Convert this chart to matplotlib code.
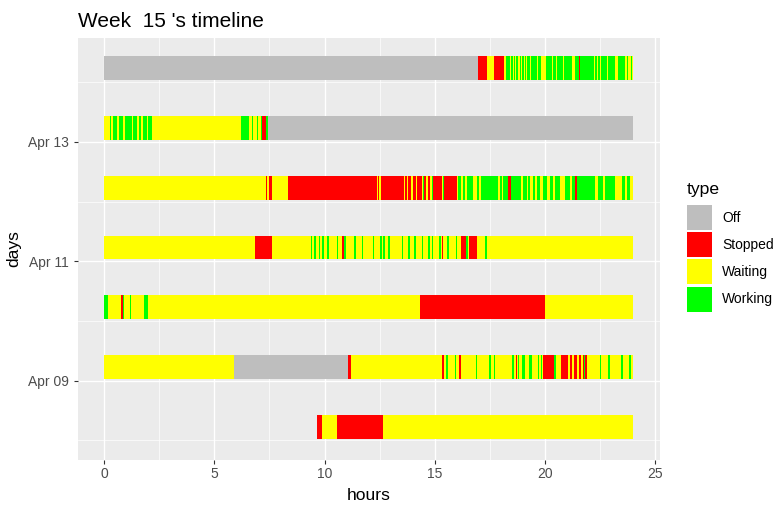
import matplotlib
matplotlib.use("Agg")
import matplotlib.pyplot as plt
from matplotlib.patches import Patch

plt.rcParams['font.family'] = ['Liberation Sans', 'DejaVu Sans']

# Categories and colours
type_names = ["Off", "Stopped", "Waiting", "Working"]
type_colors = ["#BEBEBE", "#FF0000", "#FFFF00", "#00FF00"]

days = ["Apr 08", "Apr 09", "Apr 10", "Apr 11", "Apr 12", "Apr 13", "Apr 14"]
day_tick_labels = ["Apr 09", "Apr 11", "Apr 13"]

# Each day: change times (hours, last entry = end of record) and the state
# that holds from each change time until the next one.
apr08_times = [9.675, 9.87, 10.55, 12.64, 24.0]
apr08_states = ["Stopped", "Waiting", "Stopped", "Waiting"]

apr09_times = [0, 5.896, 11.08, 11.2, 15.31, 15.42, 15.51, 15.59, 15.9, 15.96,
               16.12, 16.19, 16.87, 16.93, 17.46, 17.54, 17.69, 17.75, 18.52,
               18.58, 18.69, 18.75, 18.79, 18.84, 18.96, 19.11, 19.28, 19.43,
               19.68, 19.74, 19.8, 19.86, 19.92, 20.41, 20.5, 20.71, 21.04,
               21.12, 21.2, 21.32, 21.47, 21.53, 21.62, 21.7, 21.76, 21.82,
               21.88, 22.49, 22.55, 22.87, 22.93, 23.43, 23.52, 23.82, 23.9, 24.0]
apr09_states = ["Waiting", "Off", "Stopped", "Waiting", "Stopped", "Waiting",
                "Working", "Waiting", "Working", "Waiting", "Stopped", "Waiting",
                "Working", "Waiting", "Working", "Waiting", "Working", "Waiting",
                "Working", "Waiting", "Stopped", "Waiting", "Working", "Waiting",
                "Working", "Waiting", "Working", "Waiting", "Working", "Waiting",
                "Working", "Waiting", "Stopped", "Working", "Waiting", "Stopped",
                "Waiting", "Stopped", "Waiting", "Stopped", "Waiting", "Stopped",
                "Waiting", "Stopped", "Working", "Stopped", "Waiting", "Working",
                "Waiting", "Working", "Waiting", "Working", "Waiting", "Working",
                "Waiting"]

apr10_times = [0, 0.17, 0.756, 0.847, 0.907, 1.165, 1.225, 1.83, 1.98,
               14.35, 20.0, 24.0]
apr10_states = ["Working", "Waiting", "Stopped", "Working", "Waiting",
                "Working", "Waiting", "Working", "Waiting", "Stopped", "Waiting"]

apr11_times = [0, 6.85, 7.6, 9.37, 9.43, 9.52, 9.6, 9.74, 9.8, 9.89, 9.96,
               10.13, 10.19, 10.55, 10.61, 10.81, 10.87, 10.98, 11.34, 11.41,
               11.69, 11.75, 12.18, 12.26, 12.52, 12.61, 12.67, 12.74, 12.9,
               12.96, 13.5, 13.56, 13.8, 13.88, 14.06, 14.13, 14.41, 14.48,
               14.71, 14.78, 14.86, 14.94, 15.19, 15.27, 15.31, 15.39, 15.57,
               15.65, 15.96, 16.02, 16.17, 16.42, 16.49, 16.57, 16.93, 17.29,
               17.37, 24.0]
apr11_states = ["Waiting", "Stopped", "Waiting", "Working", "Waiting", "Working",
                "Waiting", "Working", "Waiting", "Working", "Waiting", "Working",
                "Waiting", "Working", "Waiting", "Stopped", "Working", "Waiting",
                "Working", "Waiting", "Working", "Waiting", "Working", "Waiting",
                "Working", "Waiting", "Working", "Waiting", "Working", "Waiting",
                "Working", "Waiting", "Working", "Waiting", "Working", "Waiting",
                "Working", "Waiting", "Working", "Waiting", "Working", "Waiting",
                "Working", "Waiting", "Stopped", "Waiting", "Working", "Waiting",
                "Working", "Waiting", "Stopped", "Working", "Waiting", "Stopped",
                "Waiting", "Working", "Waiting"]

apr12_times = [0, 7.33, 7.41, 7.48, 7.6, 8.36, 12.4, 12.44, 12.49, 12.55, 13.6,
               13.665, 13.73, 13.8, 13.92, 14.03, 14.13, 14.18, 14.41, 14.48,
               14.53, 14.6, 14.71, 14.78, 14.88, 14.94, 15.31, 15.36, 15.42,
               15.99, 16.07, 16.18, 16.27, 16.37, 16.45, 16.75, 16.93, 17.02,
               17.08, 17.88, 17.96, 18.03, 18.11, 18.34, 18.44, 18.91, 19.02,
               19.17, 19.24, 19.32, 19.47, 19.55, 19.65, 19.77, 19.89, 20.11,
               20.23, 20.38, 20.45, 20.68, 20.91, 21.13, 21.21, 21.36, 21.47,
               22.27, 22.42, 22.65, 22.72, 23.17, 23.48, 23.63, 23.7, 23.85, 24.0]
apr12_states = ["Waiting", "Stopped", "Waiting", "Stopped", "Waiting", "Stopped",
                "Waiting", "Stopped", "Waiting", "Stopped", "Waiting", "Stopped",
                "Waiting", "Stopped", "Waiting", "Stopped", "Waiting", "Stopped",
                "Waiting", "Working", "Stopped", "Waiting", "Stopped", "Waiting",
                "Working", "Stopped", "Waiting", "Working", "Stopped", "Waiting",
                "Working", "Waiting", "Working", "Waiting", "Working", "Waiting",
                "Working", "Waiting", "Working", "Waiting", "Working", "Waiting",
                "Working", "Stopped", "Working", "Waiting", "Working", "Waiting",
                "Working", "Waiting", "Working", "Waiting", "Working", "Waiting",
                "Working", "Waiting", "Working", "Waiting", "Working", "Waiting",
                "Working", "Waiting", "Working", "Stopped", "Working", "Waiting",
                "Working", "Waiting", "Working", "Waiting", "Working", "Waiting",
                "Working", "Waiting"]

apr13_times = [0, 0.257, 0.318, 0.424, 0.59, 0.68, 0.877, 0.952, 1.255, 1.3,
               1.497, 1.572, 1.663, 1.754, 1.935, 2.01, 2.16, 6.21, 6.576, 6.697,
               6.77, 6.92, 7.0, 7.12, 7.18, 7.33, 7.42, 24.0]
apr13_states = ["Waiting", "Working", "Waiting", "Working", "Waiting", "Working",
                "Waiting", "Working", "Waiting", "Working", "Waiting", "Working",
                "Waiting", "Working", "Waiting", "Working", "Waiting", "Working",
                "Waiting", "Working", "Waiting", "Working", "Waiting", "Working",
                "Stopped", "Working", "Off"]

apr14_times = [0, 16.98, 17.35, 17.7, 18.15, 18.25, 18.4, 18.45, 18.55, 18.6,
               18.65, 18.7, 18.78, 18.85, 18.92, 18.97, 19.05, 19.08, 19.15,
               19.2, 19.3, 19.38, 19.62, 19.7, 19.83, 20.05, 20.3, 20.38, 20.5,
               20.55, 20.8, 20.88, 21.2, 21.35, 21.53, 21.57, 22.2, 22.27, 22.35,
               22.4, 22.5, 22.55, 22.8, 22.85, 23.15, 23.3, 23.62, 23.7, 23.78,
               23.88, 23.95, 24.0]
apr14_states = ["Off", "Stopped", "Waiting", "Stopped", "Waiting", "Working",
                "Waiting", "Working", "Waiting", "Working", "Waiting", "Working",
                "Waiting", "Working", "Waiting", "Working", "Waiting", "Working",
                "Waiting", "Working", "Waiting", "Working", "Waiting", "Working",
                "Waiting", "Working", "Waiting", "Working", "Waiting", "Working",
                "Waiting", "Working", "Waiting", "Working", "Stopped", "Working",
                "Waiting", "Working", "Waiting", "Working", "Waiting", "Working",
                "Waiting", "Working", "Waiting", "Working", "Waiting", "Working",
                "Waiting", "Working", "Waiting"]

day_series = [
    (apr08_times, apr08_states),
    (apr09_times, apr09_states),
    (apr10_times, apr10_states),
    (apr11_times, apr11_states),
    (apr12_times, apr12_states),
    (apr13_times, apr13_states),
    (apr14_times, apr14_states),
]

color_of = dict(zip(type_names, type_colors))

fig = plt.figure(figsize=(7.8, 5.07), dpi=100)
fig.patch.set_facecolor("white")
ax = fig.add_axes([0.0994, 0.0935, 0.7464, 0.8319])
ax.set_facecolor("#EBEBEB")

bar_offset = 0.23
bar_height = 0.40
for i, (times, states) in enumerate(day_series):
    starts = times[:-1]
    widths = [b - a for a, b in zip(times[:-1], times[1:])]
    ax.barh([i + bar_offset] * len(starts), widths, left=starts,
            height=bar_height, color=[color_of[s] for s in states],
            linewidth=0, zorder=3)

ax.set_xlim(-1.2, 25.2)
ax.set_ylim(-0.32, 6.74)

ax.set_xticks([0, 5, 10, 15, 20, 25])
ax.set_xticks([2.5, 7.5, 12.5, 17.5, 22.5], minor=True)
ax.set_yticks([days.index(d) for d in day_tick_labels])
ax.set_yticklabels(day_tick_labels)
ax.set_yticks([0, 2, 4, 6], minor=True)

ax.grid(which="major", color="white", linewidth=1.0, zorder=1)
ax.grid(which="minor", color="white", linewidth=0.5, zorder=1)
ax.set_axisbelow(True)

for s in ax.spines.values():
    s.set_visible(False)

ax.tick_params(which="major", length=3.2, width=0.8, color="#333333",
               labelcolor="#4D4D4D", labelsize=10, pad=2)
ax.tick_params(axis="y", which="major", pad=3)
ax.tick_params(which="minor", length=0)

ax.set_xlabel("hours", fontsize=12.6, color="black", labelpad=5)
ax.set_ylabel("days", fontsize=12.6, color="black", labelpad=5)

fig.text(0.0994, 1 - 27 / 507, "Week  15 's timeline", fontsize=15,
         ha="left", va="baseline", color="black")

handles = [Patch(facecolor=c, edgecolor="none") for c in type_colors]
leg = fig.legend(handles, type_names, title="type", loc="upper left",
                 bbox_to_anchor=(687 / 780, 1 - 182 / 507), frameon=False,
                 fontsize=10, title_fontsize=12.6, handlelength=1.8,
                 handleheight=2.39, handletextpad=0.75, labelspacing=0.15,
                 borderpad=0, borderaxespad=0, alignment="left")
# extra room between the legend title and its keys
leg._legend_box.sep = 6

fig.savefig("out.png", dpi=100, facecolor="white")
